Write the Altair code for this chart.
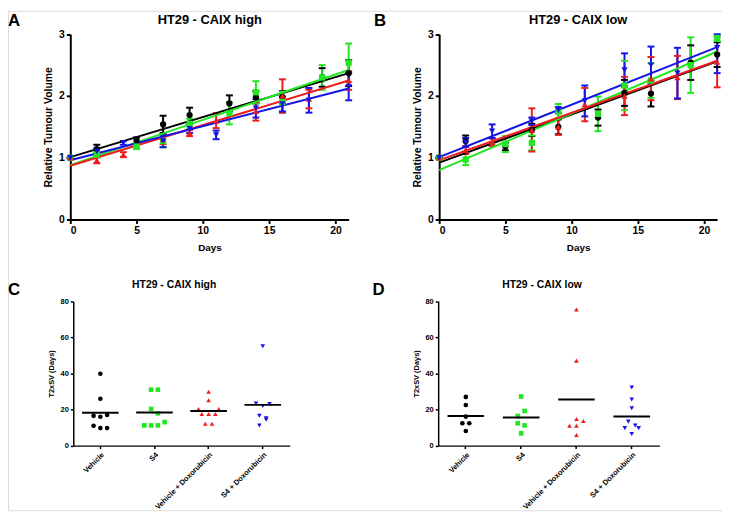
import altair as alt
import pandas as pd

FONT = "Liberation Sans"

groups = ["Vehicle", "S4", "Vehicle + Doxorubicin", "S4 + Doxorubicin"]
colors = ["#000000", "#22e622", "#ee1c1c", "#1414e6"]
shapes = ["circle", "square", "triangle-up", "triangle-down"]

# measurement days (vehicle / S4 cohort and doxorubicin cohort)
days_v = [0, 2, 5, 7, 9, 12, 14, 16, 19, 21]
days_d = [0, 2, 4, 7, 9, 11, 14, 16, 18, 21]

# ---- Panel A : HT29 - CAIX high (mean relative tumour volume, SEM)
A_veh = [1.0, 1.14, 1.28, 1.54, 1.69, 1.88, 1.98, 1.98, 2.30, 2.37]
A_veh_sem = [0, 0.07, 0.05, 0.14, 0.12, 0.13, 0.10, 0.10, 0.15, 0.21]
A_s4 = [1.0, 1.05, 1.18, 1.27, 1.55, 1.72, 2.06, 1.90, 2.30, 2.54]
A_s4_sem = [0, 0.05, 0.04, 0.10, 0.08, 0.18, 0.18, 0.17, 0.20, 0.31]
A_vd = [1.0, 0.96, 1.05, 1.30, 1.40, 1.60, 1.75, 2.00, 1.95, 2.25]
A_vd_sem = [0, 0.05, 0.04, 0.08, 0.05, 0.12, 0.15, 0.27, 0.15, 0.15]
A_sd = [1.0, 1.10, 1.24, 1.27, 1.47, 1.37, 1.80, 1.87, 1.93, 2.15]
A_sd_sem = [0, 0.05, 0.03, 0.10, 0.07, 0.07, 0.15, 0.12, 0.20, 0.22]
# linear fits (value at day 0 and day 21)
fit_days = [0, 21]
A_fit_veh = [1.01, 2.37]
A_fit_s4 = [0.88, 2.42]
A_fit_vd = [0.87, 2.25]
A_fit_sd = [0.96, 2.12]

# ---- Panel B : HT29 - CAIX low
B_veh = [1.0, 1.27, 1.18, 1.45, 1.50, 1.65, 2.05, 2.04, 2.54, 2.67]
B_veh_sem = [0, 0.09, 0.06, 0.10, 0.12, 0.13, 0.21, 0.21, 0.28, 0.20]
B_s4 = [1.0, 0.97, 1.22, 1.24, 1.75, 1.71, 2.17, 2.25, 2.50, 2.94]
B_s4_sem = [0, 0.09, 0.13, 0.12, 0.12, 0.28, 0.40, 0.28, 0.45, 0.05]
B_vd = [1.0, 1.12, 1.25, 1.45, 1.50, 1.86, 2.00, 2.28, 2.30, 2.55]
B_vd_sem = [0, 0.06, 0.06, 0.35, 0.13, 0.27, 0.31, 0.35, 0.35, 0.41]
B_sd = [1.0, 1.25, 1.43, 1.59, 1.77, 1.92, 2.42, 2.50, 2.37, 2.78]
B_sd_sem = [0, 0.07, 0.11, 0.06, 0.05, 0.25, 0.27, 0.30, 0.41, 0.41]
B_fit_veh = [0.92, 2.56]
B_fit_s4 = [0.80, 2.72]
B_fit_vd = [0.96, 2.57]
B_fit_sd = [1.01, 2.79]

# ---- Panel C : T2xSV (days), HT29 - CAIX high ; col = horizontal column of the point
C_veh = [39.8, 26.0, 16.5, 16.0, 17.0, 11.0, 9.7, 9.7]
C_veh_col = [0, 0, -2, 0, 2, -2, 0, 2]
C_s4 = [31.0, 31.0, 20.3, 17.9, 13.0, 11.2, 11.2, 11.2]
C_s4_col = [-1, 1, -1, 1, 3, -3, -1, 1]
C_vd = [29.8, 25.2, 20.3, 20.3, 17.5, 17.5, 17.5, 12.1, 12.1]
C_vd_col = [0, 0, -3, 3, -2, 0, 2, -1, 1]
C_sd = [55.0, 23.4, 23.0, 21.9, 16.6, 15.2, 14.3, 11.2]
C_sd_col = [0, -2, 2, 0, -1, 1, 1, -1]

# ---- Panel D : T2xSV (days), HT29 - CAIX low
D_veh = [27.0, 22.5, 16.1, 12.4, 12.4, 8.1]
D_veh_col = [0, 0, 0, -1, 1, 0]
D_s4 = [27.2, 19.2, 16.4, 12.4, 11.2, 6.8]
D_s4_col = [0, 1, -1, -1, 1, 0]
D_vd = [75.4, 47.1, 14.8, 13.7, 11.0, 11.0, 5.9]
D_vd_col = [0, 0, 0, 2, -2, 0, 0]
D_sd = [32.2, 25.6, 20.7, 13.3, 11.2, 9.7, 9.7, 6.4]
D_sd_col = [0, 0, 0, -1, 1, -2, 2, 0]

# ---- layout of the figure (pixels inside the drawing area)
W, H = 722, 505
A_box = dict(x=[63, 344.5], y=[211, 23.7])
B_box = dict(x=[436, 717.1], y=[211, 23.7])
C_box = dict(x=[66, 285], y=[439.7, 293.7])
D_box = dict(x=[435, 658.7], y=[439.7, 293.7])


def growth_frames(series, fits):
    rows, frows = [], []
    for g, (days, m, s) in zip(groups, series):
        for d, mv, sv in zip(days, m, s):
            rows.append({"group": g, "day": d, "mean": mv, "lo": mv - sv, "hi": mv + sv})
    for g, f in zip(groups, fits):
        for d, v in zip(fit_days, f):
            frows.append({"group": g, "day": d, "value": v})
    return pd.DataFrame(rows), pd.DataFrame(frows)


def scatter_frame(series):
    rows = []
    for g, (vals, cols) in zip(groups, series):
        for v, c in zip(vals, cols):
            rows.append({"group": g, "value": v, "col": c})
    return pd.DataFrame(rows)


color = alt.Color("group:N", scale=alt.Scale(domain=groups, range=colors), legend=None)
shape = alt.Shape("group:N", scale=alt.Scale(domain=groups, range=shapes), legend=None)

axis_common = dict(domainColor="black", tickColor="black", labelColor="black", titleColor="black",
                   labelFont=FONT, titleFont=FONT, labelFontWeight="bold", titleFontWeight="bold",
                   grid=False, labelOverlap=False)


def text_layer(txt, x, y, size, align):
    return alt.Chart(pd.DataFrame({"t": [txt]})).mark_text(
        font=FONT, fontWeight="bold", fontSize=size, align=align, baseline="alphabetic", color="black"
    ).encode(text="t:N", x=alt.value(x), y=alt.value(y))


def growth_panel(series, fits, box):
    pts, fit = growth_frames(series, fits)
    xs = alt.Scale(domain=[0, 21], nice=False, range=box["x"])
    ys = alt.Scale(domain=[0, 3], nice=False, clamp=True, range=box["y"])
    xax = alt.Axis(values=[0, 5, 10, 15, 20], title="Days", orient="bottom", offset=box["y"][0] - H,
                   domainWidth=2, tickWidth=2, tickSize=4, labelFontSize=10.5, titleFontSize=10,
                   labelPadding=2, titlePadding=7, format="d", **axis_common)
    yax = alt.Axis(values=[0, 1, 2, 3], title="Relative Tumour Volume", orient="left", offset=-box["x"][0],
                   domainWidth=2, tickWidth=2, tickSize=4, labelFontSize=10.5, titleFontSize=10.5,
                   labelPadding=2, titlePadding=5, format="d", **axis_common)
    X = alt.X("day:Q", scale=xs, axis=xax)
    base = alt.Chart(pts)
    err = base.mark_rule(strokeWidth=2).encode(
        x=X, y=alt.Y("lo:Q", scale=ys, axis=yax), y2="hi:Q", color=color)
    caps = base.transform_fold(["lo", "hi"], as_=["end", "val"]).mark_tick(
        orient="horizontal", size=7, thickness=2, opacity=1).encode(
        x=X, y=alt.Y("val:Q", scale=ys, axis=yax), color=color)
    lines = alt.Chart(fit).mark_line(strokeWidth=2).encode(
        x=X, y=alt.Y("value:Q", scale=ys, axis=yax), color=color, detail="group:N")
    points = base.mark_point(filled=True, size=40, opacity=1).encode(
        x=X, y=alt.Y("mean:Q", scale=ys, axis=yax), color=color, shape=shape)
    return alt.layer(err, caps, lines, points)


def scatter_panel(series, box):
    df = scatter_frame(series)
    band = (box["x"][1] - box["x"][0]) / len(groups)
    xax = alt.Axis(title=None, labelAngle=-45, orient="bottom", offset=box["y"][0] - H,
                   domainWidth=1.5, tickWidth=1.5, tickSize=3, labelFontSize=7.5, labelPadding=2,
                   **axis_common)
    yax = alt.Axis(values=[0, 20, 40, 60, 80], title="T2xSV (Days)", orient="left", offset=-box["x"][0],
                   domainWidth=1.5, tickWidth=1.5, tickSize=3, labelFontSize=7.5, titleFontSize=7.5,
                   labelPadding=2, titlePadding=5, format="d", **axis_common)
    xs = alt.Scale(domain=groups, paddingInner=0, paddingOuter=0, range=box["x"])
    ys = alt.Scale(domain=[0, 80], nice=False, range=box["y"])
    X = alt.X("group:N", scale=xs, axis=xax, sort=groups)
    base = alt.Chart(df)
    pts = base.mark_point(filled=True, size=22, opacity=1).encode(
        x=X,
        xOffset=alt.XOffset("col:Q", scale=alt.Scale(domain=[-8, 8], range=[0, band])),
        y=alt.Y("value:Q", scale=ys, axis=yax),
        color=color, shape=shape)
    mean = base.mark_tick(orient="horizontal", size=37, thickness=2, color="black", opacity=1).encode(
        x=X, y=alt.Y("mean(value):Q", scale=ys, axis=yax))
    return alt.layer(pts, mean)


A = growth_panel([(days_v, A_veh, A_veh_sem), (days_v, A_s4, A_s4_sem),
                  (days_d, A_vd, A_vd_sem), (days_d, A_sd, A_sd_sem)],
                 [A_fit_veh, A_fit_s4, A_fit_vd, A_fit_sd], A_box)
B = growth_panel([(days_v, B_veh, B_veh_sem), (days_v, B_s4, B_s4_sem),
                  (days_d, B_vd, B_vd_sem), (days_d, B_sd, B_sd_sem)],
                 [B_fit_veh, B_fit_s4, B_fit_vd, B_fit_sd], B_box)
C = scatter_panel([(C_veh, C_veh_col), (C_s4, C_s4_col), (C_vd, C_vd_col), (C_sd, C_sd_col)], C_box)
D = scatter_panel([(D_veh, D_veh_col), (D_s4, D_s4_col), (D_vd, D_vd_col), (D_sd, D_sd_col)], D_box)

labels = [
    text_layer("A", 0, 15, 17, "left"),
    text_layer("HT29 - CAIX high", 204, 13, 13, "center"),
    text_layer("B", 370, 15, 17, "left"),
    text_layer("HT29 - CAIX low", 576.5, 13, 13, "center"),
    text_layer("C", 0, 287, 17, "left"),
    text_layer("HT29 - CAIX high", 168, 280.5, 10.5, "center"),
    text_layer("D", 368.7, 287, 17, "left"),
    text_layer("HT29 - CAIX low", 540, 280.5, 10.5, "center"),
]

chart = alt.layer(A, B, C, D, *labels).resolve_scale(
    x="independent", y="independent", xOffset="independent"
).properties(
    width=W, height=H, padding=0, autosize=alt.AutoSizeParams(type="none")
).configure_view(stroke=None).configure(background="white")

chart.save("out.html", embed_options={"renderer": "svg", "actions": False})
